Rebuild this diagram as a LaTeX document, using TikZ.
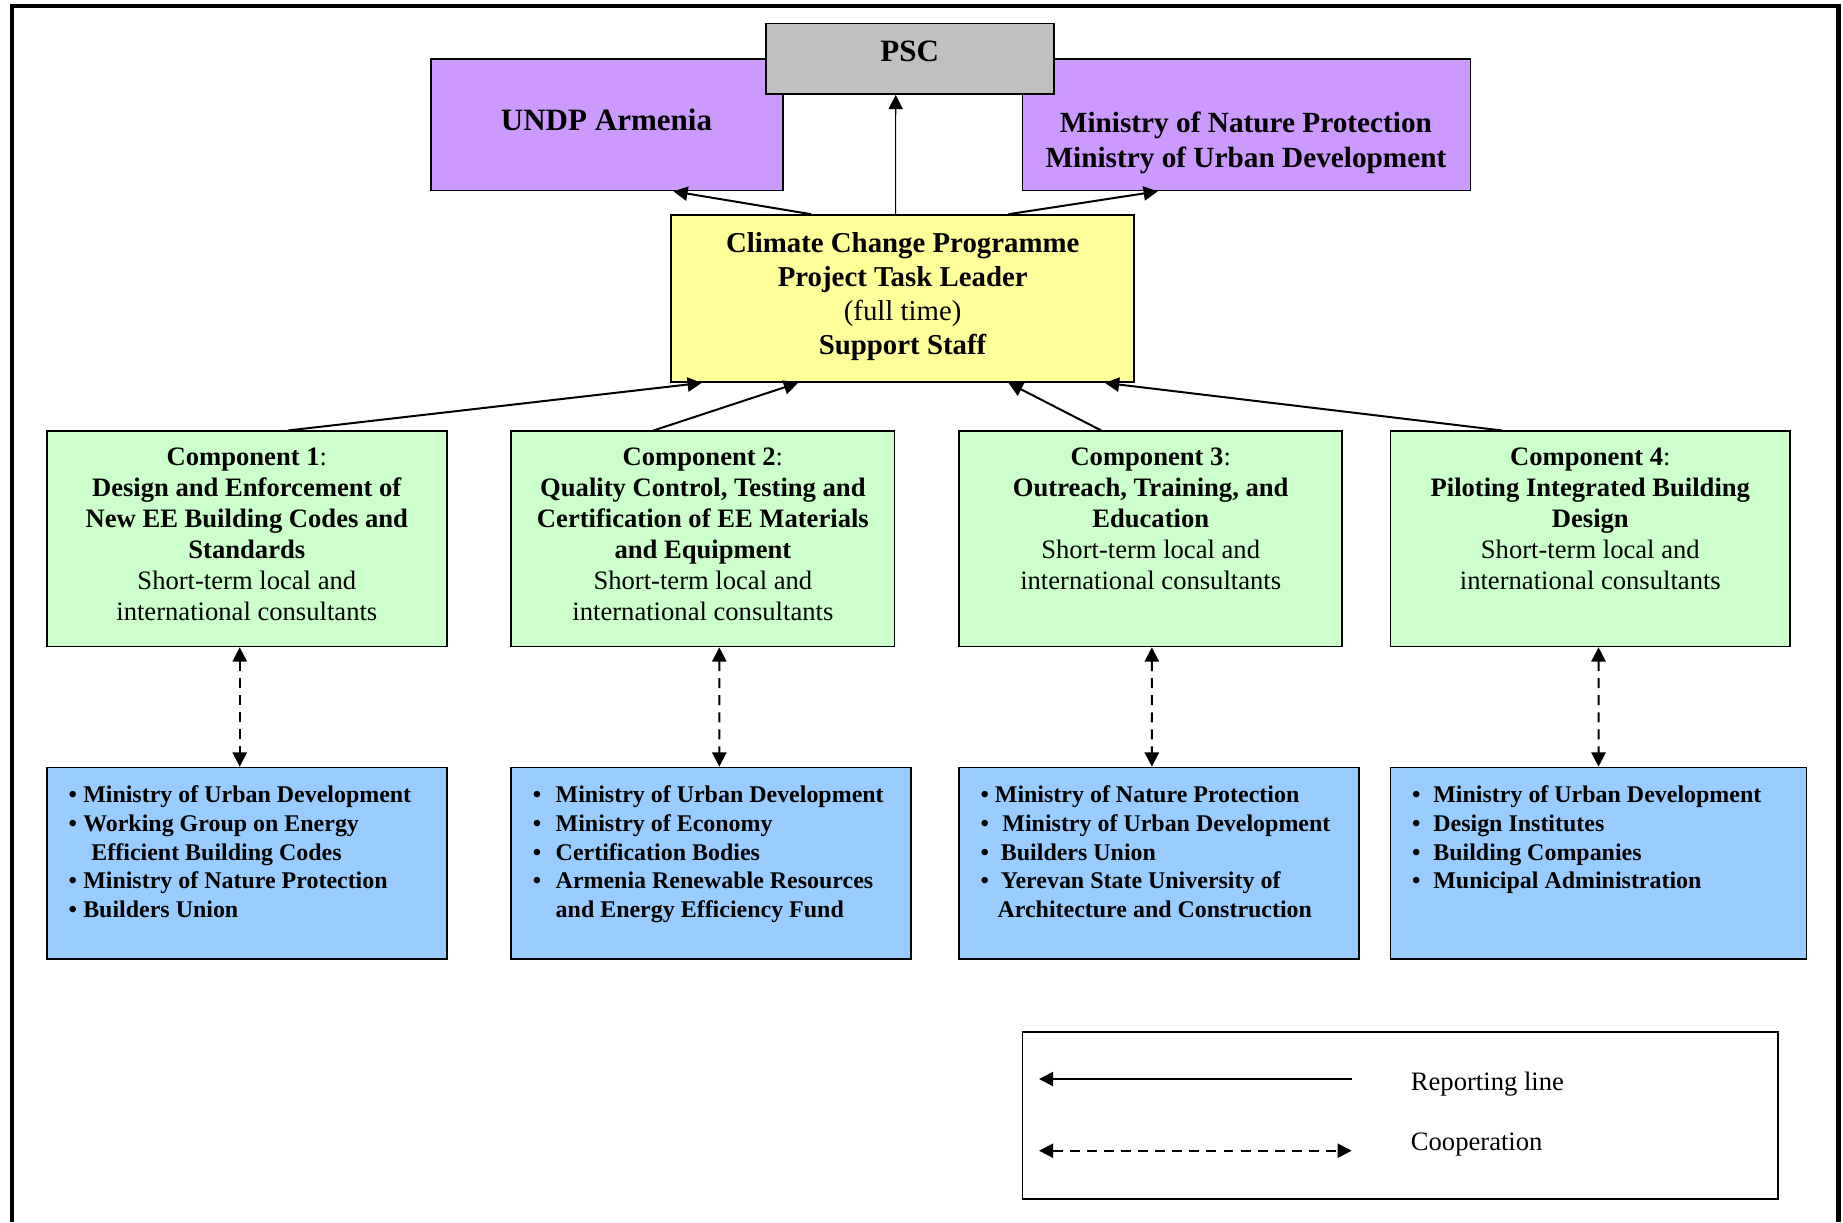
\documentclass[tikz,border=0pt]{standalone}
\usepackage{fontspec}
\setmainfont{Liberation Serif}
\usetikzlibrary{arrows.meta,fit}
\definecolor{pscgray}{HTML}{C0C0C0}
\definecolor{undpviolet}{HTML}{CC99FF}
\definecolor{leadyellow}{HTML}{FFFF99}
\definecolor{compgreen}{HTML}{CCFFCC}
\definecolor{partnerblue}{HTML}{99CCFF}
\newcommand{\blt}[1]{\makebox[#1][l]{\textbullet}}

\begin{document}
\begin{tikzpicture}[x=0.53pt,y=-0.53pt,>={Triangle[length=6.4pt,width=6.4pt]},
    box/.style={draw,line width=0.8pt,inner sep=0pt},
    report/.style={->,line width=0.9pt},
    coop/.style={<->,line width=0.9pt,dash pattern=on 4.5pt off 3.2pt},
    toptext/.style={font={\fontsize{14pt}{15.4pt}\selectfont\bfseries},align=center,inner sep=0pt},
    leadtext/.style={font={\fontsize{13pt}{15.4pt}\selectfont},align=center,inner sep=0pt},
    comptext/.style={font={\fontsize{12pt}{13.9pt}\selectfont},align=center,inner sep=0pt,anchor=north},
    listtext/.style={font={\fontsize{10.8pt}{13pt}\selectfont\bfseries},align=left,inner sep=0pt,anchor=north west},
    legtext/.style={font={\fontsize{12pt}{14pt}\selectfont},inner sep=0pt,anchor=west}]
    \useasboundingbox (0,0) rectangle (1568,1040);
    % outer frame, open at the bottom
    \draw[line width=2pt] (10,1040) -- (10,5) -- (1564,5) -- (1564,1040);

    % top level
    \node[box,fill=undpviolet,fit={(367,50) (666,162)}] (undp) {};
    \node[box,fill=undpviolet,fit={(870,50) (1251,162)}] (mnp) {};
    \node[box,fill=pscgray,fit={(652,20) (897,80)}] (psc) {};
    \node[toptext] (psclbl) at (774,44) {PSC};
    \node[toptext] (undplbl) at (516,102) {UNDP Armenia};
    \node[toptext,font={\fontsize{13.2pt}{15.4pt}\selectfont\bfseries}] (mnplbl) at (1060,121.5)
        {Ministry of Nature Protection\\Ministry of Urban Development};

    % task leader
    \node[box,fill=leadyellow,fit={(571,183) (965,325)}] (ccp) {};
    \node[leadtext] (ccplbl) at (768,252.5) {\textbf{Climate Change Programme}\\\textbf{Project Task Leader}\\(full time)\\\textbf{Support Staff}};

    % components
    \node[box,fill=compgreen,fit={(40,367) (380,550)}] (c1) {};
    \node[box,fill=compgreen,fit={(435,367) (761,550)}] (c2) {};
    \node[box,fill=compgreen,fit={(816,367) (1142,550)}] (c3) {};
    \node[box,fill=compgreen,fit={(1183,367) (1523,550)}] (c4) {};
    \node[comptext] (c1lbl) at (210,381) {\textbf{Component 1}:\\\textbf{Design and Enforcement of}\\\textbf{New EE Building Codes and}\\\textbf{Standards}\\Short-term local and\\international consultants};
    \node[comptext] (c2lbl) at (598,381) {\textbf{Component 2}:\\\textbf{Quality Control, Testing and}\\\textbf{Certification of EE Materials}\\\textbf{and Equipment}\\Short-term local and\\international consultants};
    \node[comptext] (c3lbl) at (979,381) {\textbf{Component 3}:\\\textbf{Outreach, Training, and}\\\textbf{Education}\\Short-term local and\\international consultants};
    \node[comptext] (c4lbl) at (1353,381) {\textbf{Component 4}:\\\textbf{Piloting Integrated Building}\\\textbf{Design}\\Short-term local and\\international consultants};

    % partners
    \node[box,fill=partnerblue,fit={(40,653) (380,816)}] (b1) {};
    \node[box,fill=partnerblue,fit={(435,653) (775,816)}] (b2) {};
    \node[box,fill=partnerblue,fit={(816,653) (1156,816)}] (b3) {};
    \node[box,fill=partnerblue,fit={(1183,653) (1537,816)}] (b4) {};
    \node[listtext] (b1lbl) at (58,668) {\blt{6.6pt}Ministry of Urban Development\\\blt{6.6pt}Working Group on Energy\\\hspace*{10.3pt}Efficient Building Codes\\\blt{6.6pt}Ministry of Nature Protection\\\blt{6.6pt}Builders Union};
    \node[listtext] (b2lbl) at (453,668) {\blt{10.3pt}Ministry of Urban Development\\\blt{10.3pt}Ministry of Economy\\\blt{10.3pt}Certification Bodies\\\blt{10.3pt}Armenia Renewable Resources\\\hspace*{10.3pt}and Energy Efficiency Fund};
    \node[listtext] (b3lbl) at (834,668) {\blt{6.4pt}Ministry of Nature Protection\\\blt{9.8pt}Ministry of Urban Development\\\blt{9.1pt}Builders Union\\\blt{9.1pt}Yerevan State University of\\\hspace*{7.6pt}Architecture and Construction};
    \node[listtext] (b4lbl) at (1201,668) {\blt{9.6pt}Ministry of Urban Development\\\blt{9.6pt}Design Institutes\\\blt{9.6pt}Building Companies\\\blt{9.6pt}Municipal Administration};

    % reporting lines
    \draw[report] ([xshift=-41.3pt]ccp.north) -- ([xshift=29.9pt]undp.south);
    \draw[report] ([xshift=47.7pt]ccp.north) -- ([xshift=-40pt]mnp.south);
    \draw[report,line width=0.5pt] ([xshift=-3.2pt]ccp.north) -- ([xshift=-6.6pt]psc.south);
    \draw[report] ([xshift=18.6pt]c1.north) -- ([xshift=-90.6pt]ccp.south);
    \draw[report] ([xshift=-22.3pt]c2.north) -- ([xshift=-47.2pt]ccp.south);
    \draw[report] ([xshift=-22.3pt]c3.north) -- ([xshift=47.7pt]ccp.south);
    \draw[report] ([xshift=-39.8pt]c4.north) -- ([xshift=91.2pt]ccp.south);

    % cooperation
    \draw[coop] ([xshift=-3.2pt]c1.south) -- ([xshift=-3.2pt]b1.north);
    \draw[coop] ([xshift=7.4pt]c2.south) -- ([xshift=3.7pt]b2.north);
    \draw[coop] ([xshift=0.5pt]c3.south) -- ([xshift=-3.2pt]b3.north);
    \draw[coop] ([xshift=3.7pt]c4.south) -- (b4.north);

    % legend
    \node[box,fit={(870,878) (1513,1020)}] (legend) {};
    \coordinate (repfrom) at (1150,918);
    \coordinate (repto) at (884,918);
    \coordinate (coopfrom) at (884,979);
    \coordinate (coopto) at (1150,979);
    \draw[report] (repfrom) -- (repto);
    \draw[coop] (coopfrom) -- (coopto);
    \node[legtext] (replbl) at (1200,922) {Reporting line};
    \node[legtext] (cooplbl) at (1200,974) {Cooperation};
\end{tikzpicture}
\end{document}
